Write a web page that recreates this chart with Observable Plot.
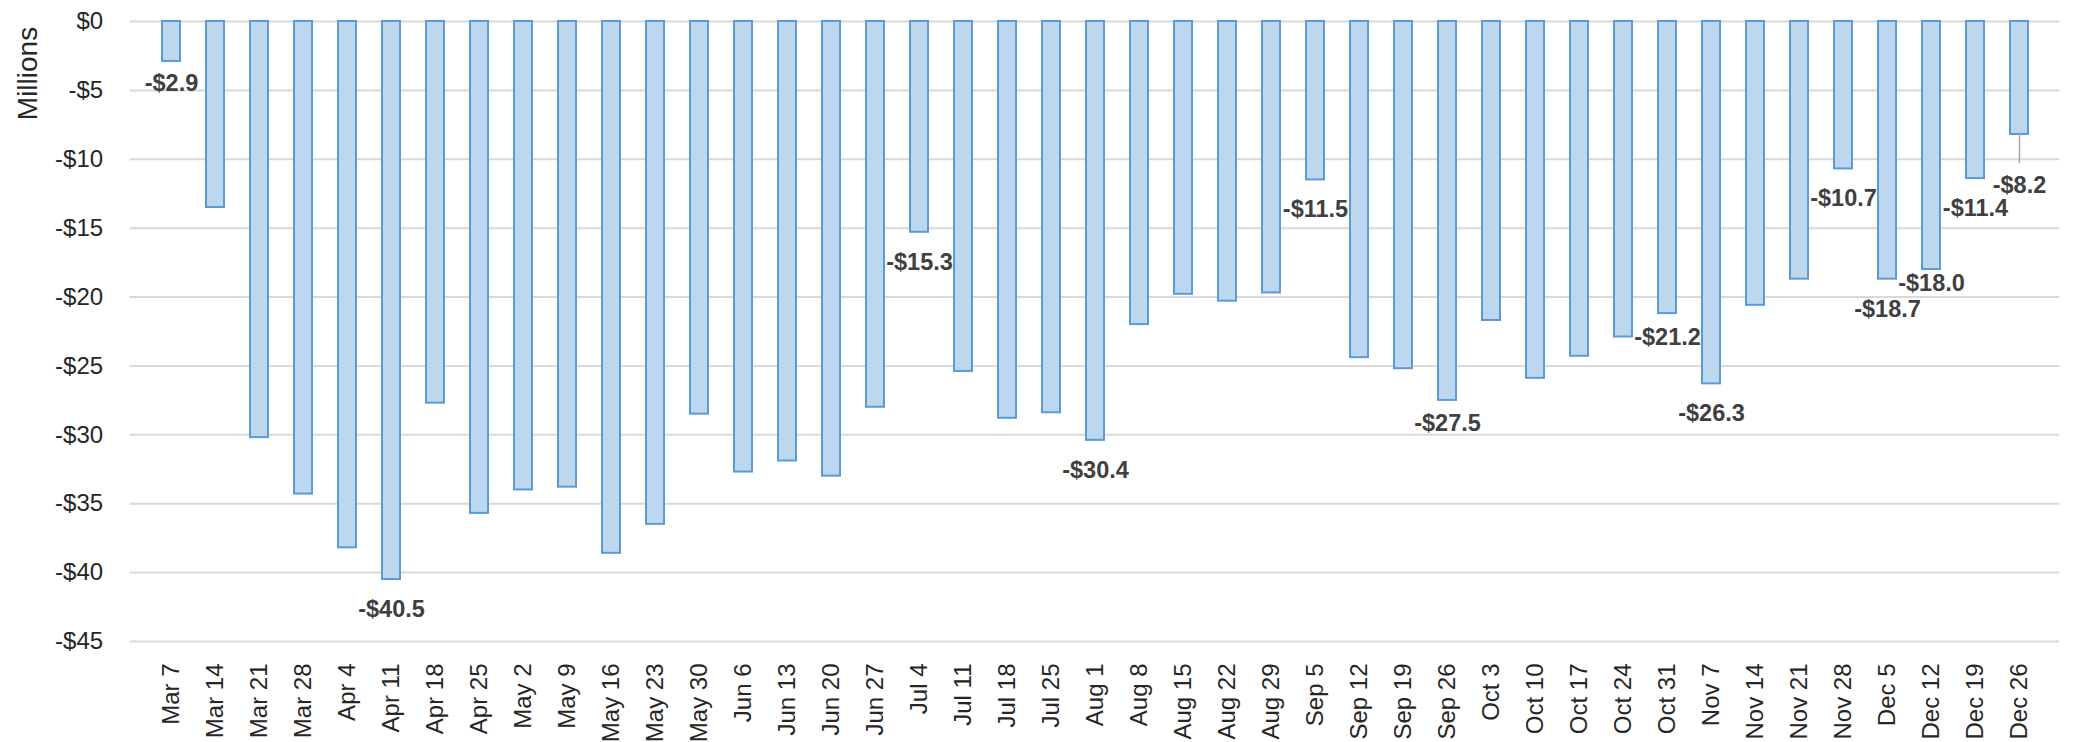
<!DOCTYPE html>
<html>
<head>
<meta charset="utf-8">
<script src="https://cdn.jsdelivr.net/npm/d3@7"></script>
<script src="https://cdn.jsdelivr.net/npm/@observablehq/plot@0.6"></script>
<style>
  html, body { margin: 0; padding: 0; background: #fff; }
  #chart svg { display: block; }
</style>
</head>
<body>
<div id="chart"></div>
<script>
const weeks = ["Mar 7","Mar 14","Mar 21","Mar 28","Apr 4","Apr 11","Apr 18","Apr 25","May 2","May 9","May 16","May 23","May 30","Jun 6","Jun 13","Jun 20","Jun 27","Jul 4","Jul 11","Jul 18","Jul 25","Aug 1","Aug 8","Aug 15","Aug 22","Aug 29","Sep 5","Sep 12","Sep 19","Sep 26","Oct 3","Oct 10","Oct 17","Oct 24","Oct 31","Nov 7","Nov 14","Nov 21","Nov 28","Dec 5","Dec 12","Dec 19","Dec 26"];
const values = [-2.9,-13.5,-30.2,-34.3,-38.2,-40.5,-27.7,-35.7,-34.0,-33.8,-38.6,-36.5,-28.5,-32.7,-31.9,-33.0,-28.0,-15.3,-25.4,-28.8,-28.4,-30.4,-22.0,-19.8,-20.3,-19.7,-11.5,-24.4,-25.2,-27.5,-21.7,-25.9,-24.3,-22.9,-21.2,-26.3,-20.6,-18.7,-10.7,-18.7,-18.0,-11.4,-8.2];
const labelledWeeks = ["Mar 7","Apr 11","Jul 4","Aug 1","Sep 5","Sep 26","Oct 31","Nov 7","Nov 28","Dec 5","Dec 12","Dec 19","Dec 26"];
const leaderWeeks = ["Dec 26"];
const yTicks = [0,-5,-10,-15,-20,-25,-30,-35,-40,-45];

const data = weeks.map((w, i) => ({week: w, value: values[i]}));
const labelGap = {"Mar 7": 22, "Sep 26": 23, "Oct 31": 24, "Dec 12": 14, "Dec 26": 51};
const labels = data.filter(d => labelledWeeks.includes(d.week));
const leaders = data.filter(d => leaderWeeks.includes(d.week));
const fmt = v => (v < 0 ? "-" : "") + "$" + Math.abs(v).toFixed(1);
const tickFmt = v => (v < 0 ? "-" : "") + "$" + Math.abs(v);

const labelMarks = labels.map(d => Plot.text([d], {
  x: "week", y: "value", text: d => fmt(d.value),
  dy: labelGap[d.week] ?? 30, lineAnchor: "middle",
  fontSize: 23.5, fontWeight: "bold", fill: "#404040",
  fontFamily: "Liberation Sans, Arial, sans-serif"
}));

const chart = Plot.plot({
  width: 2078,
  height: 742,
  marginTop: 21,
  marginBottom: 101,
  marginLeft: 129.6,
  marginRight: 18.6,
  style: {fontFamily: "Liberation Sans, Arial, sans-serif", background: "#fff"},
  x: {domain: weeks, padding: 0.6, align: 0.5},
  y: {domain: [-45, 0]},
  marks: [
    Plot.ruleY(yTicks, {stroke: "#D9D9D9", strokeWidth: 2}),
    Plot.barY(data, {x: "week", y1: 0, y2: "value", fill: "#BDD7EE", stroke: "#5B9BD5", strokeWidth: 2}),
    Plot.ruleX(leaders, {x: "week", y1: "value", y2: "value", insetBottom: -29, stroke: "#A6A6A6", strokeWidth: 1.5}),
    ...labelMarks,
    Plot.axisY({ticks: yTicks, tickFormat: tickFmt, tickSize: 0, tickPadding: 27, fontSize: 24, color: "#262626", label: null}),
    Plot.axisX({tickRotate: -90, tickSize: 0, tickPadding: 22, fontSize: 24, color: "#262626", label: null}),
    Plot.text(["Millions"], {frameAnchor: "top-left", dx: -102, dy: 52, rotate: -90, textAnchor: "middle", lineAnchor: "middle", text: d => d, fontSize: 28, fill: "#262626"})
  ]
});
document.getElementById("chart").appendChild(chart);
</script>
</body>
</html>
